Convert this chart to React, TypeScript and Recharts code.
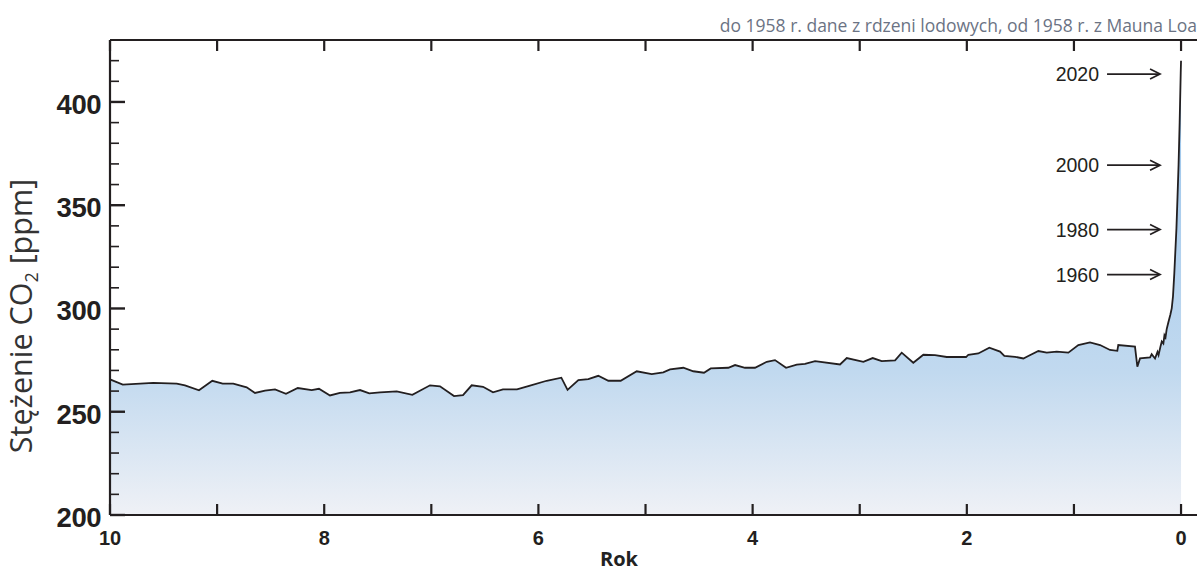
import { AreaChart, Area, XAxis, YAxis, ReferenceDot } from "recharts";

// thousands of years before present
const kyr = [
  10.0, 9.881, 9.596, 9.377, 9.3, 9.169, 9.045, 8.948, 8.849, 8.724, 8.646, 8.553, 8.459,
  8.357, 8.247, 8.117, 8.049, 7.946, 7.853, 7.759, 7.666, 7.579, 7.479, 7.323, 7.177, 7.012,
  6.919, 6.788, 6.704, 6.623, 6.517, 6.424, 6.331, 6.2, 6.078, 5.923, 5.786, 5.728, 5.627,
  5.534, 5.441, 5.347, 5.232, 5.082, 4.942, 4.834, 4.771, 4.647, 4.554, 4.454, 4.391, 4.227,
  4.164, 4.071, 3.978, 3.868, 3.791, 3.688, 3.588, 3.511, 3.417, 3.184, 3.121, 2.966, 2.879,
  2.795, 2.67, 2.608, 2.5, 2.406, 2.297, 2.188, 2.007, 1.986, 1.893, 1.79, 1.69, 1.65, 1.55,
  1.472, 1.426, 1.332, 1.254, 1.161, 1.052, 0.959, 0.85, 0.756, 0.663, 0.595, 0.586, 0.43,
  0.408, 0.383, 0.289, 0.274, 0.243, 0.22, 0.21, 0.19, 0.18, 0.165, 0.155, 0.145, 0.134,
  0.12, 0.1, 0.087, 0.075, 0.063, 0.043, 0.033, 0.023, 0.013, 0.003, 0.0,
];

// CO2 concentration [ppm]
const ppm = [
  265.7, 263.1, 264.0, 263.6, 262.8, 260.4, 265.0, 263.6, 263.6, 261.8, 259.1, 260.2, 260.8,
  258.7, 261.5, 260.5, 261.1, 257.9, 259.1, 259.4, 260.5, 258.9, 259.4, 259.9, 258.2, 262.8,
  262.3, 257.6, 258.0, 262.8, 262.1, 259.4, 260.8, 260.8, 262.6, 265.0, 266.5, 260.6, 265.3,
  265.8, 267.4, 265.0, 265.0, 269.6, 268.2, 269.1, 270.5, 271.3, 269.6, 268.9, 271.0, 271.3,
  272.6, 271.3, 271.3, 274.2, 275.0, 271.3, 272.8, 273.2, 274.5, 272.9, 276.0, 274.2, 276.0,
  274.5, 274.9, 278.6, 273.7, 277.6, 277.4, 276.5, 276.5, 277.6, 278.2, 281.0, 279.1, 277.0, 276.6,
  275.8, 277.0, 279.4, 278.6, 279.1, 278.6, 282.3, 283.6, 282.3, 279.9, 279.5, 282.3, 281.5,
  271.8, 275.8, 276.3, 277.9, 275.8, 279.0, 277.5, 282.0, 284.0, 283.0, 287.0, 286.0, 290.0,
  293.0, 297.0, 300.0, 306.0, 316.9, 338.8, 354.0, 369.7, 390.0, 414.0, 420.0,
];

const annotYears = ["2020", "2000", "1980", "1960"];
const annotPpm = [413.5, 369.4, 338.2, 316.4];

const xTicks = [0, 1, 2, 3, 4, 5, 6, 7, 8, 9, 10];
const yTicks = [200, 210, 220, 230, 240, 250, 260, 270, 280, 290, 300, 310, 320, 330, 340, 350, 360, 370, 380, 390, 400, 410, 420];

const data = kyr.map((k, i) => ({ kyr: k, ppm: ppm[i] }));

const INK = "#231f20";

const LeftTick = (props: any) => {
  const { x, y, payload } = props;
  const major = payload.value % 50 === 0;
  return (
    <g>
      <line x1={x} x2={x + (major ? 15 : 9)} y1={y} y2={y} stroke={INK} strokeWidth={major ? 2.4 : 1.6} />
      {major && (
        <text x={x - 9} y={y + 12} textAnchor="end" fontFamily="'Liberation Sans', Arial, sans-serif" fontWeight="bold" fontSize={27.5} fill={INK} letterSpacing={-0.5}>
          {payload.value}
        </text>
      )}
    </g>
  );
};

const RightTick = (props: any) => {
  const { x, y, payload } = props;
  if (payload.value % 50 !== 0) return <g />;
  return <line x1={x - 6} x2={x + 1} y1={y} y2={y} stroke={INK} strokeWidth={2.4} />;
};

const BottomTick = (props: any) => {
  const { x, y, payload } = props;
  return (
    <g>
      <line x1={x} x2={x} y1={y} y2={y - 11} stroke={INK} strokeWidth={2.2} />
      {payload.value % 2 === 0 && (
        <text x={x} y={y + 30} textAnchor="middle" fontFamily="'Liberation Sans', Arial, sans-serif" fontWeight="bold" fontSize={20} fill={INK}>
          {payload.value}
        </text>
      )}
    </g>
  );
};

const TopTick = (props: any) => {
  const { x, y } = props;
  return <line x1={x} x2={x} y1={y} y2={y + 11} stroke={INK} strokeWidth={2.2} />;
};

const ArrowLabel = (label: string) => (props: any) => {
  const { cx, cy } = props;
  return (
    <g>
      <text x={cx - 61} y={cy + 7} textAnchor="end" fontFamily="'Liberation Sans', Arial, sans-serif" fontSize={19.5} fill={INK}>
        {label}
      </text>
      <line x1={cx - 53} x2={cx - 1} y1={cy} y2={cy} stroke={INK} strokeWidth={1.7} />
      <polyline points={`${cx - 10},${cy - 5} ${cx},${cy} ${cx - 10},${cy + 5}`} fill="none" stroke={INK} strokeWidth={1.7} />
    </g>
  );
};

export default function App() {
  return (
    <div style={{ position: "absolute", left: 0, top: 0, width: 1198, height: 572 }}>
      <AreaChart width={1198} height={572} data={data} margin={{ top: 30, right: 0, bottom: 17, left: 50 }}>
        <defs>
          <linearGradient id="co2fill" x1="0" y1="40" x2="0" y2="515" gradientUnits="userSpaceOnUse">
            <stop offset="0" stopColor="#90bfea" />
            <stop offset="0.45" stopColor="#b2d1ee" />
            <stop offset="0.7" stopColor="#c1d9ef" />
            <stop offset="1" stopColor="#eff1f6" />
          </linearGradient>
        </defs>
        <XAxis
          xAxisId="b"
          dataKey="kyr"
          type="number"
          domain={[-0.149, 10]}
          reversed
          ticks={xTicks}
          interval={0}
          height={40}
          tickSize={0}
          tickMargin={0}
          tickLine={false}
          axisLine={{ stroke: INK, strokeWidth: 2.2 }}
          tick={<BottomTick />}
        />
        <XAxis
          xAxisId="t"
          orientation="top"
          dataKey="kyr"
          type="number"
          domain={[-0.149, 10]}
          reversed
          ticks={xTicks}
          interval={0}
          height={10}
          tickSize={0}
          tickMargin={0}
          tickLine={false}
          axisLine={{ stroke: INK, strokeWidth: 2.2 }}
          tick={<TopTick />}
        />
        <YAxis
          yAxisId="l"
          type="number"
          domain={[200, 430]}
          ticks={yTicks}
          interval={0}
          width={60}
          tickSize={0}
          tickMargin={0}
          tickLine={false}
          axisLine={{ stroke: INK, strokeWidth: 2.2 }}
          tick={<LeftTick />}
        />
        <YAxis
          yAxisId="r"
          orientation="right"
          type="number"
          domain={[200, 430]}
          ticks={yTicks}
          interval={0}
          width={1}
          tickSize={0}
          tickMargin={0}
          tickLine={false}
          axisLine={false}
          tick={<RightTick />}
        />
        <Area
          xAxisId="b"
          yAxisId="l"
          type="linear"
          dataKey="ppm"
          stroke={INK}
          strokeWidth={1.8}
          fill="url(#co2fill)"
          fillOpacity={1}
          dot={false}
          activeDot={false}
          isAnimationActive={false}
        />
        {annotYears.map((yr, i) => (
          <ReferenceDot key={yr} xAxisId="b" yAxisId="l" x={0.196} y={annotPpm[i]} r={0} shape={ArrowLabel(yr)} />
        ))}
      </AreaChart>
      <svg width={1198} height={572} style={{ position: "absolute", left: 0, top: 0, pointerEvents: "none" }}>
        <text x={1197} y={32} textAnchor="end" fontFamily="'Open Sans', sans-serif" fontSize={17.5} fill="#6b7384">
          do 1958 r. dane z rdzeni lodowych, od 1958 r. z Mauna Loa
        </text>
        <text x={619} y={566} textAnchor="middle" fontFamily="'Open Sans', sans-serif" fontWeight="bold" fontSize={20} fill="#222">
          Rok
        </text>
        <text transform="translate(32,316) rotate(-90)" textAnchor="middle" fontFamily="'Open Sans', sans-serif" fontSize={30.5} fill="#333">
          Stężenie CO<tspan fontSize={18} dy={6}>2</tspan>
          <tspan dy={-6}> [ppm]</tspan>
        </text>
      </svg>
    </div>
  );
}
